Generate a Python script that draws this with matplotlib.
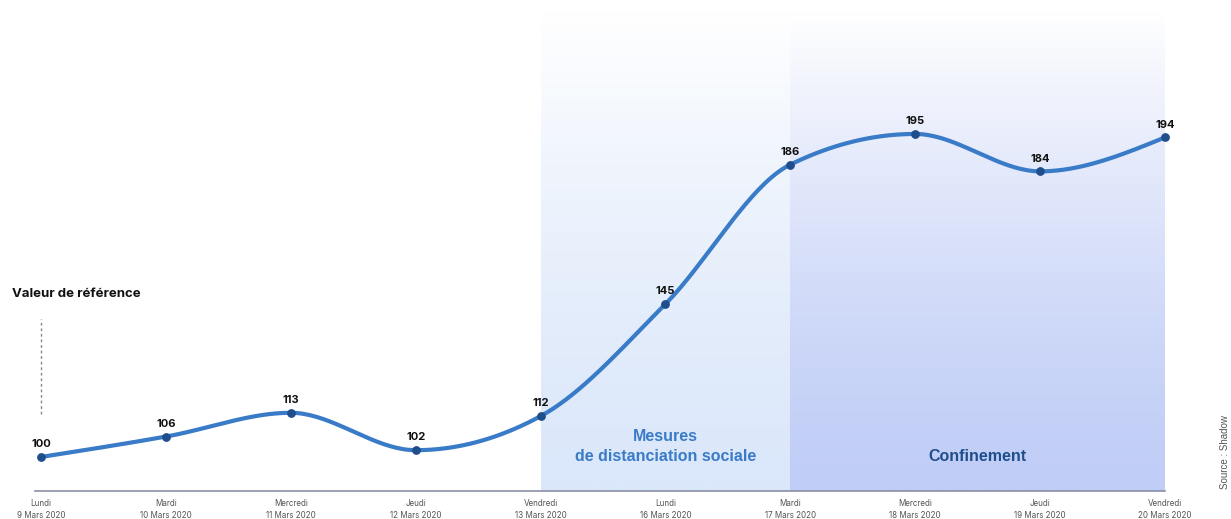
"""Indice de fréquentation (base 100) — 9 au 20 mars 2020."""
import numpy as np
import matplotlib
matplotlib.use("Agg")
import matplotlib.pyplot as plt
from matplotlib.colors import LinearSegmentedColormap

plt.rcParams["font.family"] = ["Inter", "DejaVu Sans"]

DAYS = ["Lundi", "Mardi", "Mercredi", "Jeudi", "Vendredi",
        "Lundi", "Mardi", "Mercredi", "Jeudi", "Vendredi"]
DATES = ["9 Mars 2020", "10 Mars 2020", "11 Mars 2020", "12 Mars 2020", "13 Mars 2020",
         "16 Mars 2020", "17 Mars 2020", "18 Mars 2020", "19 Mars 2020", "20 Mars 2020"]
VALUES = [100, 106, 113, 102, 112, 145, 186, 195, 184, 194]

LINE = "#3a7bc8"
DOT = "#1f4e8c"


def monotone_curve(x, y, n=40):
    """Courbe lissée type d3.curveMonotoneX."""
    x = np.asarray(x, float)
    y = np.asarray(y, float)
    h = np.diff(x)
    s = np.diff(y) / h
    t = np.zeros(len(x))
    for i in range(1, len(x) - 1):
        p = (s[i - 1] * h[i] + s[i] * h[i - 1]) / (h[i - 1] + h[i])
        t[i] = (np.sign(s[i - 1]) + np.sign(s[i])) * min(abs(s[i - 1]), abs(s[i]), 0.5 * abs(p))
    t[0] = (3 * s[0] - t[1]) / 2
    t[-1] = (3 * s[-1] - t[-2]) / 2
    xs, ys = [], []
    u = np.linspace(0, 1, n)
    for i in range(len(x) - 1):
        dx = h[i]
        p0, p3 = y[i], y[i + 1]
        p1 = p0 + t[i] * dx / 3
        p2 = p3 - t[i + 1] * dx / 3
        xs.append(x[i] + u * dx)
        ys.append((1 - u) ** 3 * p0 + 3 * (1 - u) ** 2 * u * p1
                  + 3 * (1 - u) * u ** 2 * p2 + u ** 3 * p3)
    return np.concatenate(xs), np.concatenate(ys)


fig = plt.figure(figsize=(12.31, 5.19), dpi=100)
ax = fig.add_axes([0, 0, 1, 1])
ax.axis("off")

idx = np.arange(len(VALUES))

# zones ombrées (dégradé blanc -> bleu)
top = 231
grad = (np.linspace(0, 1, 256) ** 1.4).reshape(-1, 1)
cm1 = LinearSegmentedColormap.from_list("z1", ["#dbe7fa", "#ffffff"])
cm2 = LinearSegmentedColormap.from_list("z2", ["#c0cdf6", "#ffffff"])
ax.imshow(grad, cmap=cm1, extent=(4, 6, 90, top), aspect="auto", origin="lower",
          vmin=0, vmax=1, zorder=0)
ax.imshow(grad, cmap=cm2, extent=(6, 9, 90, top), aspect="auto", origin="lower",
          vmin=0, vmax=1, zorder=0)
ax.set_xlim(-0.328, 9.528)
ax.set_ylim(81.76, 234.4)

# axe horizontal
ax.plot([-0.05, 9], [90, 90], color="#8a8fa8", lw=1.2, zorder=1)

# courbe
cx, cy = monotone_curve(idx, VALUES)
ax.plot(cx, cy, color=LINE, lw=3, solid_capstyle="round", zorder=3)
ax.scatter(idx, VALUES, s=28, color=DOT, zorder=4)

for i, v in zip(idx, VALUES):
    ax.text(i, v + 2.3, str(v), ha="center", va="bottom", fontsize=8,
            fontweight="bold", color="#111", zorder=5)

for i, (d, dt) in enumerate(zip(DAYS, DATES)):
    ax.text(i, 86.2, d, ha="center", va="center", fontsize=5.8, color="#555")
    ax.text(i, 82.9, dt, ha="center", va="center", fontsize=5.8, color="#555")

# valeur de référence
ax.text(-0.235, 148, "Valeur de référence", ha="left", va="center",
        fontsize=9.5, fontweight="bold", color="#111")
ax.plot([0, 0], [112.6, 140.5], color="#888", lw=1, ls=(0, (2, 2)), zorder=2)

# annotations des zones
ax.text(5, 103, "Mesures\nde distanciation sociale", ha="center", va="center",
        fontsize=11.5, fontweight="bold", color=LINE, linespacing=1.45,
        family=["Liberation Sans", "DejaVu Sans"])
ax.text(7.5, 100, "Confinement", ha="center", va="center",
        fontsize=11.5, fontweight="bold", color=DOT,
        family=["Liberation Sans", "DejaVu Sans"])

ax.text(9.48, 101.5, "Source : Shadow", rotation=90, ha="center", va="center",
        fontsize=7, color="#555", family=["Liberation Sans", "DejaVu Sans"])

fig.savefig("out.png", dpi=100)
